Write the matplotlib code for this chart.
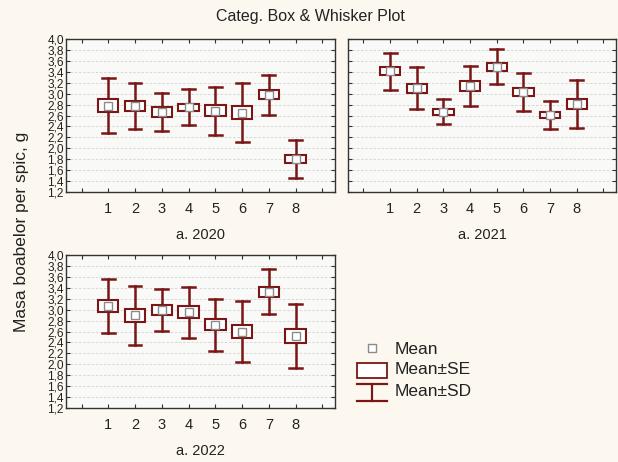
import numpy as np
import matplotlib.pyplot as plt
from matplotlib.patches import Rectangle

# ── Data: mean, standard error, standard deviation per variety and year ──────
groups = [1, 2, 3, 4, 5, 6, 7, 8]

mean_2020 = [2.78, 2.78, 2.66, 2.75, 2.69, 2.65, 2.98, 1.80]
se_2020   = [0.115, 0.09, 0.09, 0.065, 0.095, 0.12, 0.085, 0.075]
sd_2020   = [0.50, 0.42, 0.35, 0.33, 0.44, 0.54, 0.37, 0.35]

mean_2021 = [3.41, 3.10, 2.67, 3.14, 3.49, 3.03, 2.61, 2.81]
se_2021   = [0.075, 0.085, 0.055, 0.085, 0.075, 0.08, 0.06, 0.10]
sd_2021   = [0.34, 0.38, 0.23, 0.37, 0.32, 0.34, 0.26, 0.44]

mean_2022 = [3.07, 2.90, 2.99, 2.95, 2.72, 2.60, 3.33, 2.52]
se_2022   = [0.115, 0.12, 0.09, 0.11, 0.10, 0.125, 0.09, 0.125]
sd_2022   = [0.49, 0.54, 0.38, 0.47, 0.47, 0.55, 0.41, 0.58]

yticks = np.round(np.arange(1.2, 4.01, 0.2), 1)

# ── Style ─────────────────────────────────────────────────────────────────────
RED = "#7a1616"
BG = "#fdf8ef"
plt.rcParams["font.family"] = ["Liberation Sans", "DejaVu Sans"]

fig = plt.figure(figsize=(6.18, 4.62), dpi=100, facecolor=BG)

W, H = 618, 462


def px_axes(x0, y0, x1, y1):
    return fig.add_axes([x0 / W, 1 - y1 / H, (x1 - x0) / W, (y1 - y0) / H])


def draw_panel(ax, means, ses, sds, title, show_ylabels=True):
    ax.set_facecolor("#f9f9f8")
    ax.set_xlim(-0.58, 9.47)
    ax.set_ylim(1.2, 4.0)
    ax.set_yticks(yticks)
    for y in yticks[1:-1]:
        ax.axhline(y, color="#d2d2d2", lw=0.6, ls=(0, (3, 2)), zorder=0)
    for x, m, se, sd in zip(groups, means, ses, sds):
        # SD whisker
        ax.plot([x, x], [m - sd, m + sd], color=RED, lw=1.8, zorder=2)
        for yy in (m - sd, m + sd):
            ax.plot([x - 0.24, x + 0.24], [yy, yy], color=RED, lw=1.8, zorder=2)
        # SE box
        ax.add_patch(Rectangle((x - 0.38, m - se), 0.76, 2 * se,
                               facecolor="white", edgecolor=RED, lw=1.5, zorder=3))
        # mean marker
        ax.plot(x, m, marker="s", ms=5.5, mfc="white", mec="#8a8a8a",
                mew=1.0, zorder=4)
    ax.set_xticks(range(0, 10))
    ax.set_xticklabels([""] + [str(g) for g in groups] + [""], fontsize=10.5)
    if show_ylabels:
        ax.set_yticklabels([f"{v:.1f}".replace(".", ",") for v in yticks],
                           fontsize=8.6)
    else:
        ax.set_yticklabels([])
    ax.tick_params(direction="in", length=3, width=0.8, top=True, right=True,
                   colors="#333333", labelcolor="#222222", pad=1.5)
    ax.tick_params(axis="x", pad=7)
    for sp in ax.spines.values():
        sp.set_color("#333333")
        sp.set_linewidth(1.0)
    ax.set_xlabel(title, fontsize=10.5, labelpad=9, color="#222222")


ax1 = px_axes(66, 39, 335, 192)
draw_panel(ax1, mean_2020, se_2020, sd_2020, "a. 2020")

ax2 = px_axes(348, 39, 616, 192)
draw_panel(ax2, mean_2021, se_2021, sd_2021, "a. 2021", show_ylabels=False)

ax3 = px_axes(66, 255, 335, 408)
draw_panel(ax3, mean_2022, se_2022, sd_2022, "a. 2022")

fig.text(310 / W, 1 - 17 / H, "Categ. Box & Whisker Plot", ha="center",
         va="center", fontsize=11.5, color="#222222")
fig.text(22 / W, 1 - 232 / H, "Masa boabelor per spic, g", rotation=90,
         ha="center", va="center", fontsize=12.5, color="#222222")

# ── Legend ────────────────────────────────────────────────────────────────────
lg = px_axes(350, 335, 520, 410)
lg.set_xlim(350, 520)
lg.set_ylim(410, 335)
lg.axis("off")
lg.plot(372, 348, marker="s", ms=5.5, mfc="white", mec="#8a8a8a", mew=1.0)
lg.add_patch(Rectangle((357, 363), 30, 15, facecolor="white", edgecolor=RED,
                       lw=1.3))
lg.plot([372, 372], [384, 401], color=RED, lw=1.6)
lg.plot([357, 387], [384, 384], color=RED, lw=1.6)
lg.plot([357, 387], [401, 401], color=RED, lw=1.6)
for yy, txt in [(349, "Mean"), (370, "Mean±SE"), (391, "Mean±SD")]:
    lg.text(395, yy, txt, fontsize=12.5, va="center", ha="left", color="#222222")

fig.savefig("out.png", dpi=100, facecolor=BG)
